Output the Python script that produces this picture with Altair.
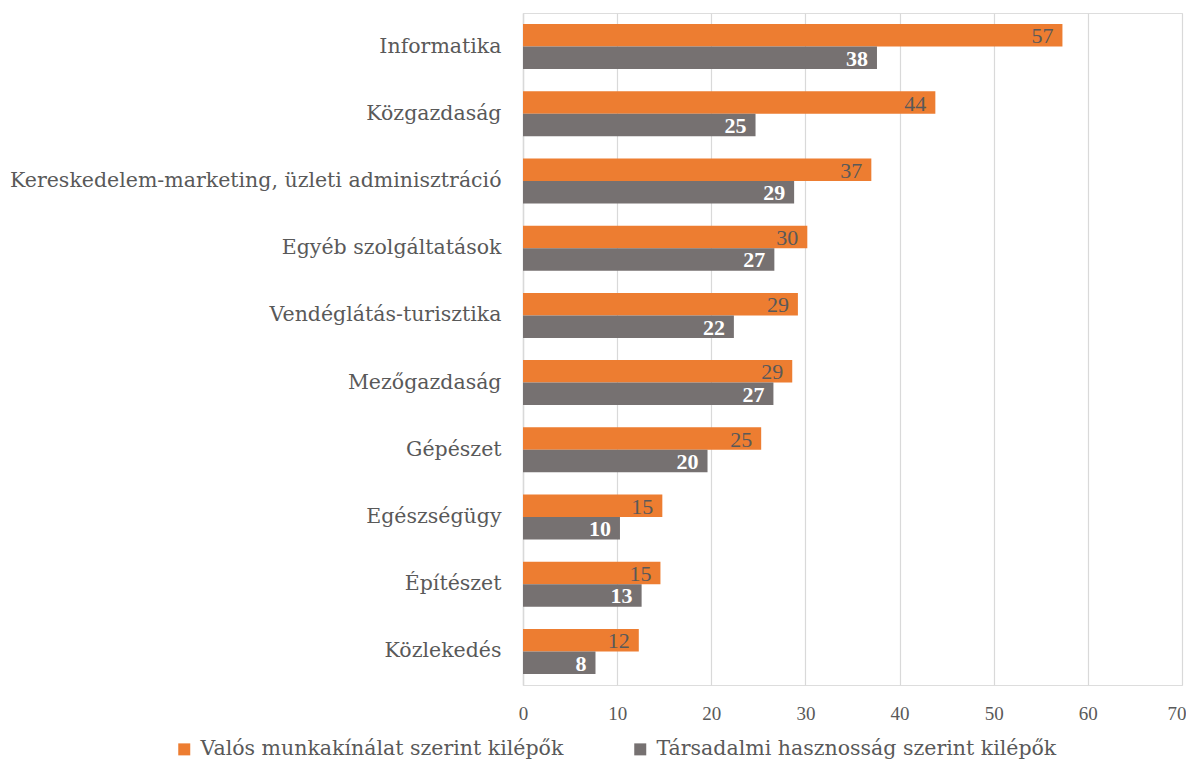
import altair as alt
import pandas as pd

categories = ["Informatika", "Közgazdaság", "Kereskedelem-marketing, üzleti adminisztráció",
              "Egyéb szolgáltatások", "Vendéglátás-turisztika", "Mezőgazdaság", "Gépészet",
              "Egészségügy", "Építészet", "Közlekedés"]
valos = [57.3, 43.8, 37.0, 30.2, 29.2, 28.6, 25.3, 14.8, 14.6, 12.3]
tarsadalmi = [37.6, 24.7, 28.8, 26.7, 22.4, 26.6, 19.6, 10.3, 12.6, 7.7]
series = ["Valós munkakínálat szerint kilépők", "Társadalmi hasznosság szerint kilépők"]
colors = ["#ED7D31", "#767171"]

rows = []
for c, a, b in zip(categories, valos, tarsadalmi):
    rows.append({"cat": c, "series": series[0], "value": a})
    rows.append({"cat": c, "series": series[1], "value": b})
df = pd.DataFrame(rows)

FONT = "DejaVu Serif"
NUMFONT = "Liberation Serif"
ysc = alt.Scale(domain=categories, paddingInner=0.33, paddingOuter=0.165)
yenc = alt.Y("cat:N", sort=categories, scale=ysc,
             axis=alt.Axis(title=None, ticks=False, domain=True, domainColor="#d9d9d9", domainWidth=1.5,
                           labelFont=FONT, labelFontSize=20.5, labelColor="#595959",
                           labelPadding=22, labelLimit=600))
yoff = alt.YOffset("series:N", sort=series, scale=alt.Scale(domain=series, paddingInner=0, paddingOuter=0))

base = alt.Chart(df)

bars = base.mark_bar().encode(
    y=yenc,
    yOffset=yoff,
    x=alt.X("value:Q", scale=alt.Scale(domain=[0, 70]),
            axis=alt.Axis(title=None, values=list(range(0, 71, 10)), ticks=False, domain=False,
                          grid=True, gridColor="#d9d9d9", gridWidth=1.2,
                          labelAlign=alt.condition("datum.value >= 70", alt.value("right"), alt.value("center")),
                          labelOffset=alt.condition("datum.value >= 70", alt.value(4), alt.value(0)),
                          labelFont=NUMFONT, labelFontSize=19, labelColor="#595959", labelPadding=19)),
    color=alt.Color("series:N", sort=series,
                    scale=alt.Scale(domain=series, range=colors),
                    legend=alt.Legend(title=None, orient="none", direction="horizontal",
                                      legendX=-349, legendY=726,
                                      symbolType="square", symbolSize=144, symbolStrokeWidth=0,
                                      labelFont=FONT, labelFontSize=20.5, labelColor="#595959",
                                      labelOffset=6, columnPadding=66, labelLimit=600, symbolOffset=0)),
)

lab1 = base.transform_filter(alt.datum.series == series[0]).mark_text(
    align="right", baseline="middle", dx=-9, dy=1, font=NUMFONT, fontSize=22, color="#595959"
).encode(y=alt.Y("cat:N", sort=categories, scale=ysc), yOffset=yoff,
         x="value:Q", text=alt.Text("value:Q", format=".0f"))

lab2 = base.transform_filter(alt.datum.series == series[1]).mark_text(
    align="right", baseline="middle", dx=-9, dy=1, font=NUMFONT, fontSize=22, fontWeight="bold", color="white"
).encode(y=alt.Y("cat:N", sort=categories, scale=ysc), yOffset=yoff,
         x="value:Q", text=alt.Text("value:Q", format=".0f"))

chart = alt.layer(bars, lab1, lab2).properties(
    width=659, height=672,
    autosize=alt.AutoSizeParams(type="none"),
    padding={"left": 515, "top": 5, "right": 4, "bottom": 76},
).configure_view(stroke=None).configure(background="white")

chart.save("out.html", embed_options={"renderer": "svg", "actions": False})
